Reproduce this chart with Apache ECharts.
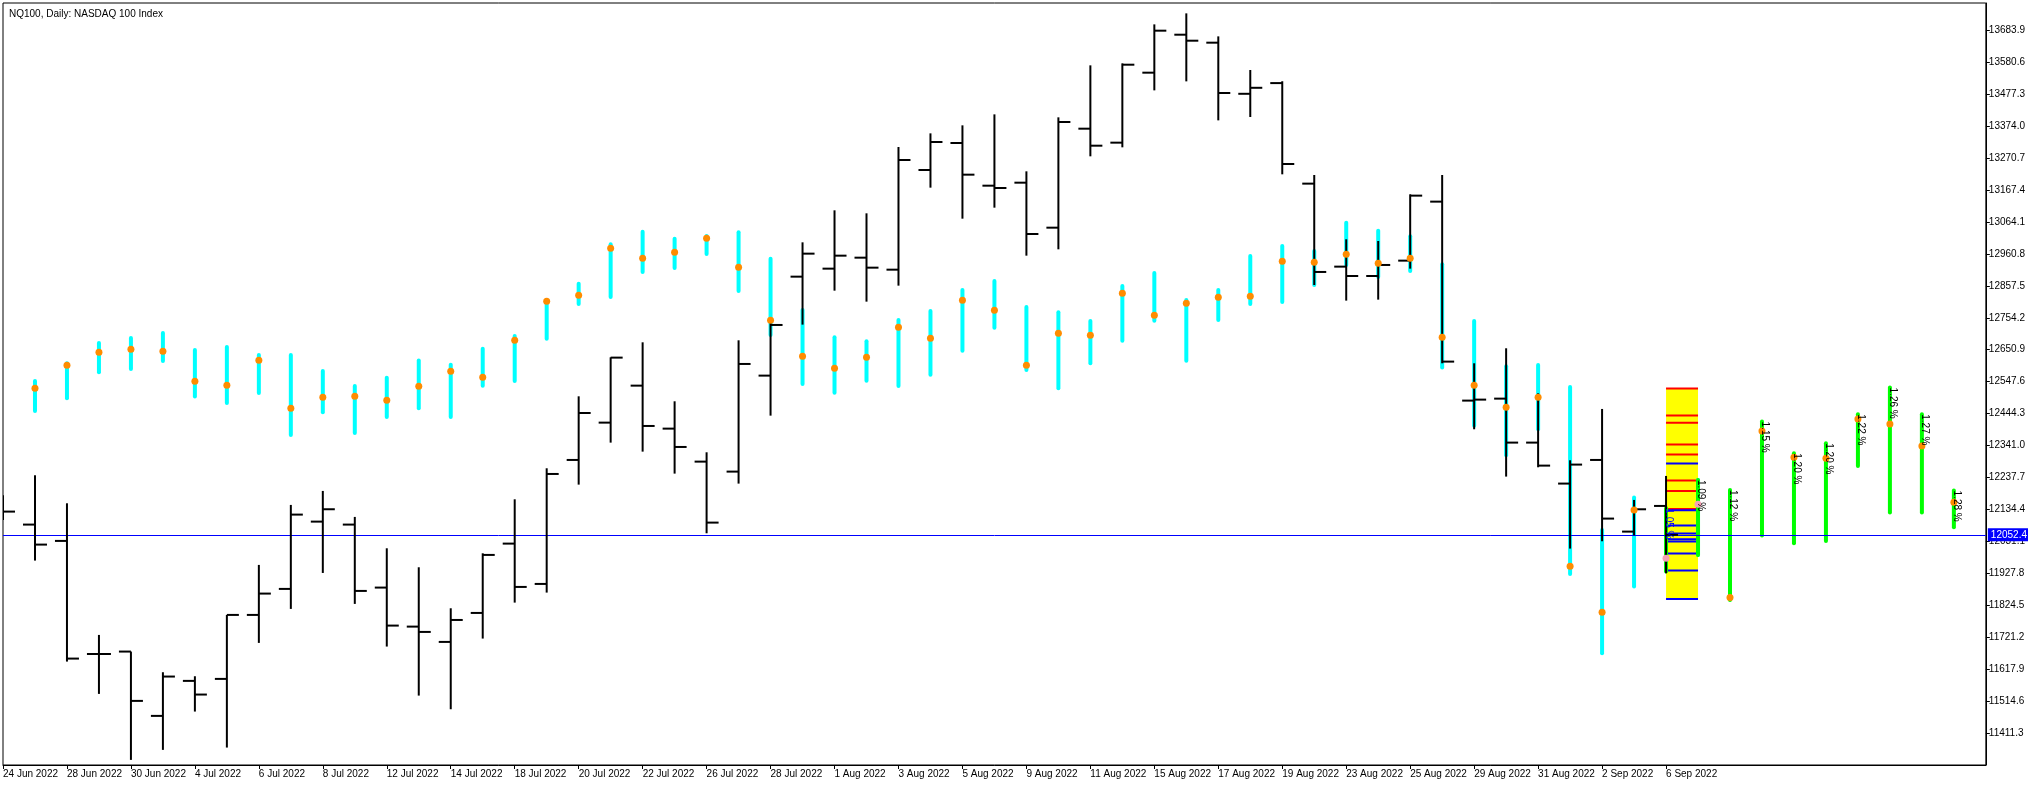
<!DOCTYPE html>
<html><head><meta charset="utf-8">
<script src="https://cdn.jsdelivr.net/npm/echarts@6/dist/echarts.min.js"></script>
<style>html,body{margin:0;padding:0;background:#fff}#c{width:2028px;height:786px}</style>
</head><body><div id="c"></div>
<script>
const dates = ['24 Jun 2022','27 Jun 2022','28 Jun 2022','29 Jun 2022','30 Jun 2022','1 Jul 2022','4 Jul 2022','5 Jul 2022','6 Jul 2022','7 Jul 2022','8 Jul 2022','11 Jul 2022','12 Jul 2022','13 Jul 2022','14 Jul 2022','15 Jul 2022','18 Jul 2022','19 Jul 2022','20 Jul 2022','21 Jul 2022','22 Jul 2022','25 Jul 2022','26 Jul 2022','27 Jul 2022','28 Jul 2022','29 Jul 2022','1 Aug 2022','2 Aug 2022','3 Aug 2022','4 Aug 2022','5 Aug 2022','8 Aug 2022','9 Aug 2022','10 Aug 2022','11 Aug 2022','12 Aug 2022','15 Aug 2022','16 Aug 2022','17 Aug 2022','18 Aug 2022','19 Aug 2022','22 Aug 2022','23 Aug 2022','24 Aug 2022','25 Aug 2022','26 Aug 2022','29 Aug 2022','30 Aug 2022','31 Aug 2022','1 Sep 2022','2 Sep 2022','5 Sep 2022','6 Sep 2022','','','','','','','','','',''];
// Price bars (index 0..52)
const open  = [12140,12085.4,12032.6,11667,11674.8,11466.8,11580,11586.4,11793.3,11877.4,12095,12085.4,11881.7,11755.5,11706,11799.7,12023.9,11893.5,12294.4,12415.1,12534.7,12395.7,12289,12256.7,12567.1,12887.1,12913,12948.5,12909.7,13232,13319.3,13181.3,13191,13045.5,13365.6,13320.4,13546.7,13669.5,13643.7,13478.4,13513,13187.9,12919.5,12889.3,12938.9,13129.7,12486.3,12492.7,12350.5,12218,12294.4,12062.7,12145.7];
const high  = [12180,12244.9,12154.3,11728.6,11674.8,11608,11595,11793.3,11955,12149,12194.2,12110.2,12008.8,11947.4,11814.8,11992.6,12167.2,12267.5,12500.2,12626.3,12674.8,12484.1,12319.2,12681.3,12755.6,12998.1,13101.6,13091.9,13306.3,13350.5,13376.4,13411.9,13227.7,13402.3,13570.4,13576.8,13702.9,13738.5,13664.1,13555.3,13519,13215.9,13007.9,13002.5,13153.4,13215.9,12607,12655.5,12510,12293.4,12459.3,12165.1,12242.7];
const low   = [12100,11969,11642.4,11537.9,11324.5,11356.9,11480.8,11364.4,11702.8,11812.7,11929,11828.9,11691,11532.4,11488.3,11716.8,11833.1,11865.5,12214.6,12350.4,12321.3,12250.2,12057.3,12217.9,12437.7,12732,12841.8,12806.3,12858,13174.9,13074.6,13110.2,12955,12975.5,13276.2,13305.3,13489.5,13518.6,13392.5,13403.3,13218,12860.2,12809.6,12812.8,12913,12607,12393.6,12240.6,12270.7,12007.8,12031.5,12050.9,11928];
const close = [12127.4,12020.7,11652.1,11667,11515.3,11594,11535.8,11793.3,11862.3,12117.7,12135,11870.9,11758.8,11738.3,11777,11987.3,11883.8,12249.1,12446.3,12625.3,12404.3,12336.4,12091.8,12604.8,12730.9,12961.5,12955,12916.2,13264.3,13322.5,13216.9,13173.8,13025,13387.2,13310.6,13572.5,13682.5,13650.1,13480.9,13497.8,13251.4,12902.3,12889.3,12924.9,13149.1,12612.4,12489.5,12350.5,12276.1,12279.4,12104.8,12134.9,12052.4];
// Cyan indicator bars (index 1..51, 53)
const cyanIdx  = [1,2,3,4,5,6,7,8,9,10,11,12,13,14,15,16,17,18,19,20,21,22,23,24,25,26,27,28,29,30,31,32,33,34,35,36,37,38,39,40,41,42,43,44,45,46,47,48,49,50,51,53];
const cyanHigh = [12549.9,12607,12672.7,12688.9,12705.1,12650,12659.8,12633.9,12633.9,12582.2,12533.7,12560.6,12615.6,12602.6,12654.3,12695.3,12806.3,12864.5,12991.7,13032.6,13010,13018.6,13030.5,12945.3,12779.4,12690.9,12677.9,12746.9,12776.1,12844,12873,12789,12771.8,12743.8,12857,12899,12811.7,12844,12954,12986.3,12970.2,13061.8,13035.9,13017.6,12927,12743.8,12597.3,12601.6,12530.5,12068.1,12172.6,12229.8];
const cyanLow  = [12452.9,12493.8,12577.9,12588.7,12614.5,12499.2,12478.7,12511,12375.3,12448.6,12381.7,12433.5,12461.5,12433.4,12534.7,12549.8,12686.7,12798.8,12821.4,12902.2,12915.2,12960.4,12840.8,12698.5,12540.1,12512,12550.9,12533.6,12570.2,12647.9,12722.2,12585.3,12526.1,12606.9,12680.2,12744.9,12615.5,12747,12798.8,12805.3,12860.2,12924.9,12886.1,12905.5,12593,12405.4,12309.5,12393.6,11925.9,11669.4,11884.9,11987.3];
const cyanDot  = [12526.2,12600.5,12642.5,12652.2,12645.8,12548.8,12535.9,12616.7,12461.5,12497,12500.3,12487.3,12532.6,12581.1,12561.7,12681.3,12807.4,12826.8,12978.7,12946.4,12965.8,13011.1,12917.3,12746,12629.6,12590.7,12626.3,12723.3,12687.7,12810.6,12778.3,12600.4,12703.9,12697.4,12833.2,12762.1,12800.9,12820.3,12823.6,12936.7,12933.5,12959.4,12930.3,12946.4,12691,12535.8,12464.7,12497.1,11950.6,11801.9,12132.8,null];
// Projection bars (index 52..61)
const greenIdx  = [52,53,54,55,56,57,58,59,60,61];
const greenHigh = [12138.1,12229.8,12197.4,12418.4,12316,12348.3,12442.1,12528.3,12442.1,12195.3];
const greenLow  = [11933.4,11987.3,11841.8,12049.8,12025,12032.5,12275,12124.1,12124.1,12076.7];
const greenDot  = [11976.5,12151.1,11849.3,12388.2,12303,12299.8,12427,12410.8,12339.7,12157.6];
const greenPct  = ['1.05 %','1.09 %','1.12 %','1.15 %','1.20 %','1.20 %','1.22 %','1.26 %','1.27 %','1.28 %'];
// Level box on 6 Sep
const boxRange = [52,53,12526.1,11845.0];
const redLevels  = [12525.1,12437.8,12415.1,12344,12311.7,12227.6,12194.2,12136.0];
const blueLevels = [12282.6,12131.7,12082.1,12056.3,12037.9,12030.4,11991.6,11936.6,11845.0];
const lastPrice = 12052.4;
const yTickStart = 11308.0, yTickStep = 103.3, yTop = 13772.0;
const title = 'NQ100, Daily: NASDAQ 100 Index';

// axis shift so tick values land on multiples of the interval
const SHIFT = +(yTickStart - Math.round(yTickStart / yTickStep) * yTickStep).toFixed(1);
const s = v => v == null ? null : +(v - SHIFT).toFixed(2);
const FONT = 'Liberation Sans';

const ohlc = open.map((o,i)=>[i, s(o), s(high[i]), s(low[i]), s(close[i])]);
const cyan = cyanIdx.map((x,k)=>[x, s(cyanHigh[k]), s(cyanLow[k])]);
const green = greenIdx.map((x,k)=>[x, s(greenHigh[k]), s(greenLow[k])]);
const dots = [];
cyanIdx.forEach((x,k)=>{ if (cyanDot[k]!=null) dots.push([x, s(cyanDot[k]), 0]); });
greenIdx.forEach((x,k)=>dots.push([x, s(greenDot[k]), k<2?1:0]));
const pct = greenIdx.map((x,k)=>[x, s(greenHigh[k]), greenPct[k], k===0?1:0]);
const levels = redLevels.map(v=>[s(v),'#ff0000']).concat(blueLevels.map(v=>[s(v),'#0000ff']));

const chart = echarts.init(document.getElementById('c'), null, {renderer:'canvas'});
const vbar = (color, w) => function(params, api){
  const x = api.value(0);
  const p1 = api.coord([x, api.value(1)]), p2 = api.coord([x, api.value(2)]);
  return {type:'line', shape:{x1:p1[0], y1:p1[1], x2:p2[0], y2:p2[1]}, style:{stroke:color, lineWidth:w, lineCap:'round'}};
};
chart.setOption({
  animation:false,
  backgroundColor:'#ffffff',
  title:{text:title, left:4, top:4, textStyle:{fontFamily:FONT, fontSize:10, fontWeight:'normal', color:'#000'}},
  grid:{left:2, right:42, top:3, bottom:21, show:true, borderColor:'#000', borderWidth:1, containLabel:false},
  xAxis:{type:'category', data:dates, boundaryGap:false,
    axisLine:{show:true, lineStyle:{color:'#000', width:1}},
    axisTick:{show:true, length:4, interval:(i)=>i%2===0 && i<=52, lineStyle:{color:'#000'}},
    axisLabel:{interval:(i)=>i%2===0 && i<=52, align:'left', margin:4, fontFamily:FONT, fontSize:10, color:'#000'},
    splitLine:{show:false}},
  yAxis:{type:'value', position:'right', min:s(yTickStart), max:s(yTop), interval:yTickStep, scale:true,
    axisLine:{show:true, lineStyle:{color:'#000'}},
    axisTick:{show:true, length:4, lineStyle:{color:'#000'}},
    axisLabel:{showMinLabel:false, showMaxLabel:false, margin:3, fontFamily:FONT, fontSize:10, color:'#000',
      formatter:v=>(v+SHIFT).toFixed(1)},
    splitLine:{show:false}},
  series:[
    {type:'custom', name:'box', clip:true, z:1, data:[[boxRange[0], boxRange[1], s(boxRange[2]), s(boxRange[3])]],
     encode:{x:[0,1], y:[2,3]},
     renderItem:(p,api)=>{const a=api.coord([api.value(0),api.value(2)]), b=api.coord([api.value(1),api.value(3)]);
       return {type:'rect', shape:{x:a[0], y:a[1], width:b[0]-a[0], height:b[1]-a[1]}, style:{fill:'#ffff00'}};}},
    {type:'custom', name:'levels', clip:true, z:2, data:levels, encode:{y:0},
     renderItem:(p,api)=>{const y=api.value(0); const a=api.coord([boxRange[0],y]), b=api.coord([boxRange[1],y]);
       return {type:'line', shape:{x1:a[0], y1:a[1], x2:b[0], y2:b[1]}, style:{stroke:levels[p.dataIndex][1], lineWidth:2}};}},
    {type:'custom', name:'cyan', clip:true, z:3, data:cyan, encode:{x:0, y:[1,2]}, renderItem:vbar('#00ffff',4)},
    {type:'custom', name:'green', clip:true, z:4, data:green, encode:{x:0, y:[1,2]}, renderItem:vbar('#00ff00',4)},
    {type:'custom', name:'ohlc', clip:true, z:5, data:ohlc, encode:{x:0, y:[1,2,3,4]},
     renderItem:(p,api)=>{const x=api.value(0);
       const o=api.coord([x,api.value(1)]), h=api.coord([x,api.value(2)]), l=api.coord([x,api.value(3)]), c=api.coord([x,api.value(4)]);
       const st={stroke:'#000', lineWidth:2};
       return {type:'group', children:[
         {type:'line', shape:{x1:h[0], y1:h[1], x2:l[0], y2:l[1]}, style:st},
         {type:'line', shape:{x1:o[0]-12, y1:o[1], x2:o[0], y2:o[1]}, style:st},
         {type:'line', shape:{x1:c[0], y1:c[1], x2:c[0]+12, y2:c[1]}, style:st}]};},
     markLine:{silent:true, symbol:'none', animation:false,
       lineStyle:{color:'#0000ff', width:1, type:'solid'},
       label:{show:true, position:'end', formatter:lastPrice.toFixed(1), color:'#fff', backgroundColor:'#0000ff',
         padding:[2,3,1,3], distance:2, fontFamily:FONT, fontSize:10},
       data:[{yAxis:s(lastPrice)}]}},
    {type:'custom', name:'dots', clip:true, z:6, data:dots, encode:{x:0, y:1},
     renderItem:(p,api)=>{const c=api.coord([api.value(0),api.value(1)]);
       return {type:'circle', shape:{cx:c[0], cy:c[1], r:3.5}, style:{fill: api.value(2)?'#f5a0b4':'#ff8c00'}};}},
    {type:'custom', name:'pct', clip:false, z:7, data:pct, encode:{x:0, y:1},
     renderItem:(p,api)=>{const c=api.coord([api.value(0),api.value(1)]);
       return {type:'text', x:c[0]-2, y:c[1], rotation:-Math.PI/2,
         style:{text:pct[p.dataIndex][2], fill:pct[p.dataIndex][3]?'#0000ff':'#000', font:'10px '+FONT, align:'left', verticalAlign:'bottom'}};}}
  ]
});
</script></body></html>
